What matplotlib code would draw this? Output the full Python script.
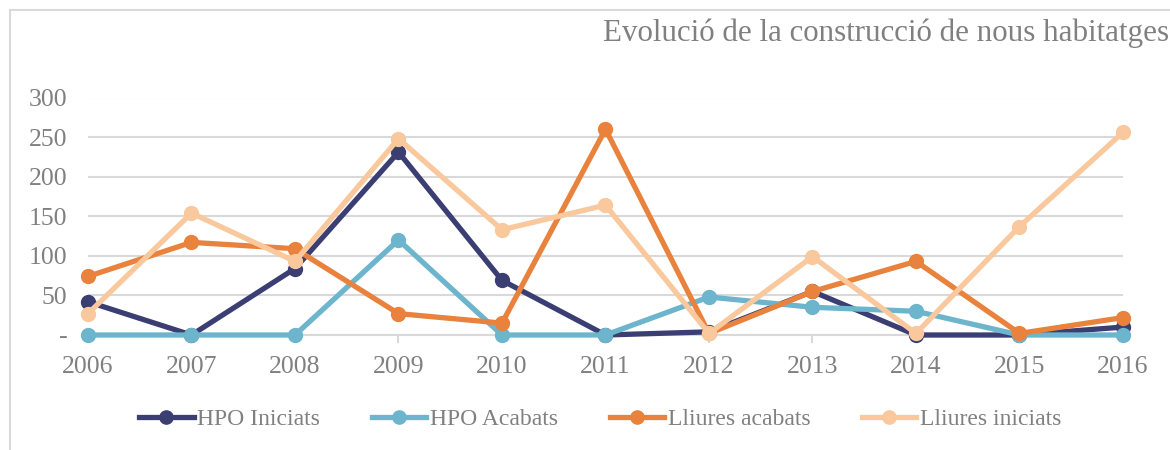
import matplotlib.pyplot as plt
from matplotlib.patches import Rectangle

years = [2006, 2007, 2008, 2009, 2010, 2011, 2012, 2013, 2014, 2015, 2016]
hpo_iniciats = [42, 0, 84, 231, 69, 0, 4, 55, 0, 0, 10]
hpo_acabats = [0, 0, 0, 120, 0, 0, 48, 35, 30, 0, 0]
lliures_acabats = [74, 117, 109, 27, 15, 260, 2, 55, 93, 2, 22]
lliures_iniciats = [27, 154, 93, 248, 133, 164, 2, 99, 2, 137, 256]

series = [
    ('HPO Iniciats', hpo_iniciats, '#3b3e72'),
    ('HPO Acabats', hpo_acabats, '#6cb5cd'),
    ('Lliures acabats', lliures_acabats, '#e8823c'),
    ('Lliures iniciats', lliures_iniciats, '#f9c89c'),
]
yticks = [0, 50, 100, 150, 200, 250, 300]
ylabels = ['-', '50', '100', '150', '200', '250', '300']

txt = '#808080'
plt.rcParams['font.family'] = ['Liberation Serif', 'DejaVu Serif']

fig = plt.figure(figsize=(11.7, 4.5), dpi=100)
ax = fig.add_axes([88 / 1170, 1 - 335 / 450, (1123 - 88) / 1170, (335 - 97.5) / 450])

for name, vals, col in series:
    ax.plot(years, vals, color=col, lw=3.8, marker='o', ms=10, label=name,
            clip_on=False, zorder=3)

ax.set_xlim(2006, 2016)
ax.set_ylim(0, 300)
ax.set_xticks(years)
ax.set_yticks(yticks)
ax.set_yticklabels(ylabels)
ax.grid(axis='y', color='#d9d9d9', lw=1.5)
ax.set_axisbelow(True)
for s in ['top', 'right', 'left']:
    ax.spines[s].set_visible(False)
ax.spines['bottom'].set_color('#d9d9d9')
ax.spines['bottom'].set_linewidth(1.5)
ax.tick_params(axis='y', length=0, pad=15, labelsize=18.5, labelcolor=txt)
ax.tick_params(axis='x', length=6, color='#d9d9d9', width=1.5, pad=9,
               labelsize=18.5, labelcolor=txt)

fig.text(0.999, 0.925, 'Evolució de la construcció de nous habitatges',
         ha='right', va='center', fontsize=22.3, color=txt)

ax.legend(loc='center', bbox_to_anchor=(0.495, -0.355), ncol=4, frameon=False,
          fontsize=17, labelcolor=txt, handlelength=2.3, handletextpad=0.15,
          columnspacing=2.2, markerscale=0.95)

fig.patches.append(Rectangle((10 / 1170, -0.1), 1.2, 1 - 10 / 450 + 0.1,
                             transform=fig.transFigure, fill=False,
                             edgecolor='#d9d9d9', lw=1.5))

fig.savefig('out.png', dpi=100)
